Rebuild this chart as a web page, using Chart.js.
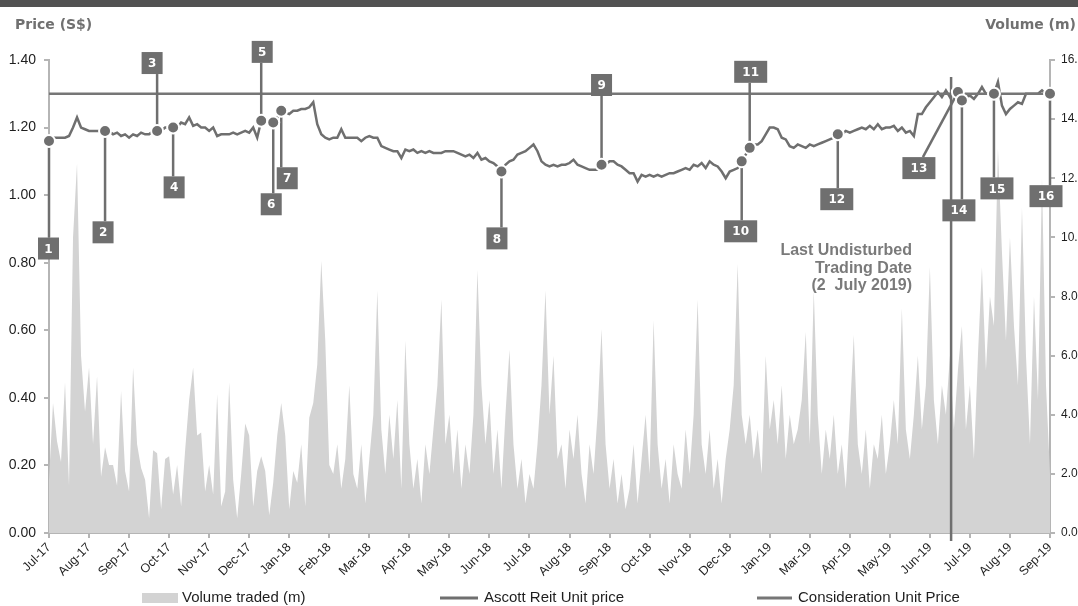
<!DOCTYPE html>
<html>
<head>
<meta charset="utf-8">
<script src="https://cdn.jsdelivr.net/npm/chart.js@4.4.1/dist/chart.umd.min.js"></script>
<style>
  html, body { margin: 0; padding: 0; background: #ffffff; }
  #wrap { position: relative; width: 1078px; height: 606px; }
</style>
</head>
<body>
<div id="wrap"><canvas id="chart" width="1078" height="606"></canvas></div>
<script>
// Axis labels (one per ~21 trading days, 10 samples each)
const MONTH_LABELS = ['Jul-17','Aug-17','Sep-17','Oct-17','Nov-17','Dec-17','Jan-18','Feb-18','Mar-18',
  'Apr-18','May-18','Jun-18','Jul-18','Aug-18','Sep-18','Oct-18','Nov-18','Dec-18','Jan-19','Mar-19',
  'Apr-19','May-19','Jun-19','Jul-19','Aug-19','Sep-19'];
const SAMPLES_PER_LABEL = 10;

// Ascott Reit unit closing price (S$)
const PRICE = [
  1.16,1.17,1.17,1.17,1.17,1.175,1.20,1.23,1.20,1.195,
  1.19,1.19,1.19,1.19,1.19,1.19,1.18,1.185,1.175,1.18,
  1.17,1.18,1.175,1.185,1.18,1.18,1.19,1.19,1.19,1.20,
  1.20,1.20,1.20,1.215,1.21,1.23,1.205,1.21,1.20,1.20,
  1.19,1.20,1.175,1.18,1.18,1.18,1.185,1.18,1.185,1.19,
  1.185,1.20,1.17,1.22,1.215,1.215,1.215,1.23,1.25,1.245,
  1.24,1.25,1.25,1.255,1.255,1.26,1.275,1.21,1.18,1.17,
  1.165,1.17,1.17,1.195,1.17,1.17,1.17,1.17,1.16,1.17,
  1.175,1.17,1.17,1.145,1.14,1.135,1.13,1.13,1.11,1.135,
  1.13,1.135,1.125,1.13,1.125,1.13,1.125,1.125,1.125,1.13,
  1.13,1.13,1.125,1.12,1.115,1.12,1.11,1.125,1.105,1.11,
  1.10,1.095,1.085,1.07,1.09,1.10,1.105,1.12,1.125,1.13,
  1.14,1.15,1.13,1.10,1.09,1.085,1.09,1.085,1.09,1.09,
  1.095,1.105,1.09,1.085,1.08,1.075,1.075,1.075,1.09,1.09,
  1.10,1.10,1.09,1.085,1.075,1.065,1.065,1.04,1.06,1.055,
  1.06,1.055,1.06,1.055,1.06,1.065,1.065,1.07,1.075,1.08,
  1.075,1.09,1.085,1.095,1.08,1.10,1.09,1.085,1.07,1.05,
  1.07,1.075,1.08,1.10,1.12,1.14,1.15,1.15,1.16,1.18,
  1.20,1.20,1.195,1.17,1.165,1.145,1.14,1.15,1.145,1.14,
  1.15,1.145,1.15,1.155,1.16,1.165,1.17,1.18,1.18,1.19,
  1.185,1.19,1.195,1.20,1.195,1.205,1.195,1.21,1.195,1.20,
  1.20,1.205,1.19,1.20,1.185,1.19,1.175,1.24,1.24,1.26,
  1.275,1.29,1.305,1.29,1.31,1.29,1.31,1.305,1.28,1.29,
  1.295,1.285,1.30,1.32,1.30,1.30,1.30,1.335,1.265,1.24,
  1.255,1.265,1.275,1.27,1.30,1.30,1.30,1.30,1.31,1.30,
  1.30
];

// Units traded (millions)
const VOLUME = [
  1.8,4.4,3.1,2.4,5.1,1.6,10.0,12.5,6.0,4.1,
  5.6,3.0,5.3,1.9,2.9,2.3,2.3,1.6,4.8,2.1,
  1.4,5.6,3.0,2.2,1.8,0.5,2.8,2.7,0.8,2.5,
  2.6,1.3,2.3,0.9,2.8,4.5,5.6,3.3,3.4,1.4,
  2.3,1.3,4.7,0.9,1.4,5.1,1.8,0.5,2.0,3.7,
  3.3,0.9,2.1,2.6,2.1,0.6,1.7,3.3,4.4,3.3,
  0.8,2.1,1.7,3.0,0.9,3.9,4.4,5.7,9.2,6.5,
  2.3,2.0,3.0,1.5,2.5,5.0,2.0,1.5,3.0,1.0,
  2.5,4.0,8.2,3.5,2.0,4.0,2.5,4.5,1.5,6.5,
  3.0,1.5,2.5,1.0,3.0,2.0,3.5,5.0,7.9,3.0,
  4.0,2.0,3.5,1.5,3.0,2.0,4.0,8.9,5.0,3.0,
  4.5,2.0,3.5,1.5,4.0,6.2,3.0,1.5,2.5,1.0,
  2.0,1.5,3.0,5.0,8.2,4.0,6.0,2.5,3.0,1.5,
  3.5,2.5,4.0,2.0,1.0,3.0,2.0,4.0,6.9,3.0,
  1.5,2.5,1.0,2.0,0.8,1.5,3.0,1.0,2.5,4.0,
  2.0,7.2,3.0,1.5,2.5,1.0,3.0,2.0,1.5,3.5,
  2.0,4.0,7.9,3.0,2.0,3.5,1.5,2.5,1.0,2.5,
  3.5,5.0,9.1,4.0,3.0,4.0,2.5,3.5,2.0,6.0,
  3.5,4.5,3.0,5.0,2.5,4.0,3.0,3.5,4.5,6.8,
  3.0,8.2,4.0,2.0,3.5,2.5,4.0,2.0,3.0,1.5,
  4.0,6.7,3.0,2.0,3.5,1.5,3.0,2.5,4.0,2.0,
  3.0,4.5,3.0,7.6,3.5,2.5,4.0,6.0,3.5,5.0,
  9.0,4.5,3.0,5.0,4.0,6.0,3.5,5.5,7.0,3.5,
  5.0,2.5,6.0,9.0,5.5,8.0,7.0,13.0,9.5,6.5,
  10.0,7.0,5.0,11.0,6.0,3.0,8.0,4.5,12.0,5.0,
  2.0
];

// Consideration unit price (S$)
const CONSIDERATION_PRICE = 1.30;

// Numbered events: sample index on the price series
const EVENT_NUMBERS = [1,2,3,4,5,6,7,8,9,10,11,12,13,14,15,16];
const EVENT_INDEX   = [0,14,27,31,53,56,58,113,138,173,175,197,227,228,236,250];

// Last undisturbed trading date (2 July 2019), sample index
const LAST_UNDISTURBED_INDEX = 225.3;
const LAST_UNDISTURBED_TEXT = ['Last Undisturbed', 'Trading Date', '(2  July 2019)'];

// Callout box placement: horizontal offset in px from the marker, vertical centre on the price axis
const CALLOUT_LAYOUT = [
  {dx: -0.5, y: 0.842}, {dx: -2, y: 0.890}, {dx: -5, y: 1.391}, {dx: 1, y: 1.023},
  {dx: 1, y: 1.424},    {dx: -2, y: 0.973}, {dx: 6, y: 1.050},  {dx: -4.5, y: 0.872},
  {dx: 0, y: 1.326},    {dx: -1, y: 0.893}, {dx: 1, y: 1.365},  {dx: -1, y: 0.988},
  {dx: -39, y: 1.080},  {dx: -3, y: 0.955}, {dx: 3, y: 1.020},  {dx: -4, y: 0.997}
];

const N = PRICE.length;
const GREY = '#6f6f6f';
const AXIS_GREY = '#b5b5b5';
const VOL_FILL = '#d3d3d3';
const SANS = '"Liberation Sans", Arial, sans-serif';

const priceData = PRICE.map((p, i) => ({x: i, y: p}));
const volumeData = VOLUME.map((v, i) => ({x: i, y: v}));
const considerationData = [{x: 0, y: CONSIDERATION_PRICE}, {x: N - 1, y: CONSIDERATION_PRICE}];

const decorPlugin = {
  id: 'decor',
  beforeDraw(chart) {
    const ctx = chart.ctx;
    ctx.save();
    ctx.fillStyle = '#ffffff';
    ctx.fillRect(0, 0, chart.width, chart.height);
    // heading band
    ctx.fillStyle = '#525252';
    ctx.fillRect(0, 0, chart.width, 7);
    // axis titles
    ctx.fillStyle = '#707070';
    ctx.font = 'bold 14px "DejaVu Sans", Verdana, sans-serif';
    ctx.textBaseline = 'middle';
    ctx.textAlign = 'left';
    ctx.fillText('Price (S$)', 15, 25);
    ctx.textAlign = 'right';
    ctx.fillText('Volume (m)', 1076, 25);
    ctx.restore();
  },
  afterDatasetsDraw(chart) {
    const {ctx, chartArea, scales: {x, yP}} = chart;
    ctx.save();

    // last undisturbed trading date marker
    const lx = x.getPixelForValue(LAST_UNDISTURBED_INDEX);
    ctx.strokeStyle = GREY;
    ctx.lineWidth = 2.5;
    ctx.beginPath();
    ctx.moveTo(lx, yP.getPixelForValue(1.35));
    ctx.lineTo(lx, chartArea.bottom + 8);
    ctx.stroke();

    ctx.fillStyle = '#7a7a7a';
    ctx.font = 'bold 16px ' + SANS;
    ctx.textAlign = 'right';
    ctx.textBaseline = 'middle';
    LAST_UNDISTURBED_TEXT.forEach((t, k) => ctx.fillText(t, 912, 251 + k * 17.5));

    // callouts: leader line, marker, numbered box
    const boxes = EVENT_INDEX.map((idx, k) => {
      const px = x.getPixelForValue(idx);
      const py = yP.getPixelForValue(PRICE[idx]);
      const lay = CALLOUT_LAYOUT[k];
      const label = String(EVENT_NUMBERS[k]);
      const w = label.length > 1 ? 33 : 21;
      const h = 22;
      const cx = px + lay.dx;
      const cy = yP.getPixelForValue(lay.y);
      return {px, py, cx, cy, w, h, label};
    });

    ctx.strokeStyle = GREY;
    ctx.lineWidth = 2.5;
    boxes.forEach(b => {
      ctx.beginPath();
      if (Math.abs(b.cx - b.px) > 15) {
        ctx.moveTo(b.cx + 4, b.cy - b.h / 2);
        ctx.lineTo(b.px, b.py);
      } else {
        ctx.moveTo(b.px, b.py);
        ctx.lineTo(b.px, b.cy > b.py ? b.cy - b.h / 2 : b.cy + b.h / 2);
      }
      ctx.stroke();
    });

    boxes.forEach(b => {
      ctx.beginPath();
      ctx.arc(b.px, b.py, 6, 0, Math.PI * 2);
      ctx.fillStyle = GREY;
      ctx.strokeStyle = '#ffffff';
      ctx.lineWidth = 2;
      ctx.fill();
      ctx.stroke();
    });

    ctx.font = 'bold 12px "DejaVu Sans", Verdana, sans-serif';
    ctx.textAlign = 'center';
    ctx.textBaseline = 'middle';
    boxes.forEach(b => {
      ctx.fillStyle = GREY;
      ctx.fillRect(b.cx - b.w / 2, b.cy - b.h / 2, b.w, b.h);
      ctx.fillStyle = '#ffffff';
      ctx.fillText(b.label, b.cx, b.cy + 1);
    });
    ctx.restore();
  },
  afterDraw(chart) {
    // legend row
    const ctx = chart.ctx;
    const ds = chart.data.datasets;
    const y = 598;
    ctx.save();
    ctx.font = '15px ' + SANS;
    ctx.textBaseline = 'middle';
    ctx.textAlign = 'left';
    ctx.fillStyle = VOL_FILL;
    ctx.fillRect(142, y - 5, 36, 10);
    ctx.fillStyle = '#1e1e1e';
    ctx.fillText(ds[0].label, 182, y);
    ctx.strokeStyle = GREY;
    ctx.lineWidth = 3;
    ctx.beginPath(); ctx.moveTo(440, y); ctx.lineTo(478, y); ctx.stroke();
    ctx.fillText(ds[1].label, 484, y);
    ctx.strokeStyle = '#767676';
    ctx.beginPath(); ctx.moveTo(757, y); ctx.lineTo(792, y); ctx.stroke();
    ctx.fillText(ds[2].label, 798, y);
    ctx.restore();
  }
};

new Chart(document.getElementById('chart'), {
  type: 'line',
  data: {
    datasets: [
      {label: 'Volume traded (m)', data: volumeData, yAxisID: 'yV', fill: 'origin',
       backgroundColor: VOL_FILL, borderWidth: 0, pointRadius: 0, tension: 0, order: 3},
      {label: 'Ascott Reit Unit price', data: priceData, yAxisID: 'yP', fill: false,
       borderColor: GREY, borderWidth: 2.5, pointRadius: 0, tension: 0, order: 2},
      {label: 'Consideration Unit Price', data: considerationData, yAxisID: 'yP', fill: false,
       borderColor: '#767676', borderWidth: 2.5, pointRadius: 0, tension: 0, order: 1}
    ]
  },
  options: {
    responsive: false,
    animation: false,
    events: [],
    layout: {padding: {top: 60, left: 0, right: 0, bottom: 0}},
    plugins: {legend: {display: false}, tooltip: {enabled: false}},
    scales: {
      x: {
        type: 'linear', min: 0, max: N - 1,
        afterBuildTicks: s => { s.ticks = MONTH_LABELS.map((_, k) => ({value: k * SAMPLES_PER_LABEL})); },
        afterFit: s => { s.height = 73; },
        ticks: {
          autoSkip: false, maxRotation: 45, minRotation: 45, padding: 2,
          color: '#1e1e1e', font: {family: SANS, size: 12.5},
          callback: v => MONTH_LABELS[Math.round(v / SAMPLES_PER_LABEL)]
        },
        grid: {drawOnChartArea: false, drawTicks: true, tickLength: 5, color: AXIS_GREY, lineWidth: 2},
        border: {display: true, color: AXIS_GREY, width: 2}
      },
      yP: {
        position: 'left', min: 0, max: 1.4,
        afterBuildTicks: s => { s.ticks = [0, 0.2, 0.4, 0.6, 0.8, 1.0, 1.2, 1.4].map(v => ({value: v})); },
        afterFit: s => { s.width = 49; },
        ticks: {color: '#1e1e1e', font: {family: SANS, size: 14}, padding: 8, callback: v => v.toFixed(2)},
        grid: {drawOnChartArea: false, tickLength: 5, color: AXIS_GREY, lineWidth: 2},
        border: {display: true, color: AXIS_GREY, width: 2}
      },
      yV: {
        position: 'right', min: 0, max: 16,
        afterBuildTicks: s => { s.ticks = [0, 2, 4, 6, 8, 10, 12, 14, 16].map(v => ({value: v})); },
        afterFit: s => { s.width = 28; },
        ticks: {color: '#1e1e1e', font: {family: SANS, size: 12}, padding: 6, callback: v => v.toFixed(1)},
        grid: {drawOnChartArea: false, tickLength: 5, color: AXIS_GREY, lineWidth: 2},
        border: {display: true, color: AXIS_GREY, width: 2}
      }
    }
  },
  plugins: [decorPlugin]
});
</script>
</body>
</html>
